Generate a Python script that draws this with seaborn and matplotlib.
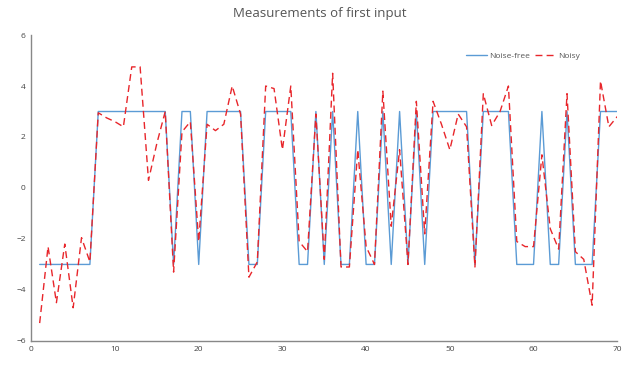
import numpy as np
import pandas as pd
import matplotlib
matplotlib.use("Agg")
import matplotlib.pyplot as plt
import seaborn as sns

x = list(range(1, 71))
noise_free = [-3]*7 + [3]*9 + [-3] + [3]*2 + [-3] + [3]*5 + [-3]*2 + [3]*4 + [-3]*2 + \
    [3, -3, 3, -3, -3, 3, -3, -3, 3, -3, 3, -3, 3, -3] + [3]*5 + [-3] + [3]*4 + [-3]*3 + \
    [3, -3, -3, 3, -3, -3, -3, 3, 3, 3]
noisy = [-5.3, -2.3, -4.5, -2.2, -4.7, -1.95, -2.9,
         2.95, 2.75, 2.6, 2.4, 4.75, 4.75, 0.3, 1.75, 3.0,
         -3.3, 2.2, 2.6, -2.1,
         2.5, 2.25, 2.5, 4.0, 2.9,
         -3.5, -2.9,
         4.0, 3.9, 1.5, 4.0,
         -2.1, -2.5,
         2.9, -2.8, 4.5, -3.1, -3.1, 1.5, -2.3, -3.0, 3.8, -1.5, 1.5, -3.0, 3.4, -1.8,
         3.4, 2.5, 1.5, 2.9, 2.4,
         -3.1,
         3.7, 2.45, 3.0, 4.0,
         -2.1, -2.3, -2.3,
         1.3, -1.6, -2.4, 3.7,
         -2.5, -2.8, -4.6,
         4.2, 2.4, 2.8]
x_ticks = [0, 10, 20, 30, 40, 50, 60, 70]
y_ticks = [-6, -4, -2, 0, 2, 4, 6]
title = "Measurements of first input"

df = pd.DataFrame({"x": x, "Noise-free": noise_free, "Noisy": noisy})

sns.set_theme(style="white")
plt.rcParams['font.family'] = ['Open Sans', 'DejaVu Sans']

fig = plt.figure(figsize=(6.26, 3.65), dpi=100)
ax = fig.add_axes([0.05, 0.066, 0.936, 0.838])

sns.lineplot(data=df, x="x", y="Noise-free", ax=ax, color="#5B9BD5", lw=1.0, label="Noise-free")
sns.lineplot(data=df, x="x", y="Noisy", ax=ax, color="#E8262B", lw=1.0, label="Noisy",
             linestyle=(0, (5, 3)))

ax.set_xlim(0, 70)
ax.set_ylim(-6, 6)
ax.set_xticks(x_ticks)
ax.set_yticks(y_ticks)
ax.tick_params(axis='both', labelsize=6, colors="#444444", length=0, pad=4)
ax.set_xlabel("")
ax.set_ylabel("")
for s in ["top", "right"]:
    ax.spines[s].set_visible(False)
for s in ["left", "bottom"]:
    ax.spines[s].set_color("#888888")
    ax.spines[s].set_linewidth(1.0)

fig.text(0.51, 0.962, title, ha="center", va="center", fontsize=9.5, color="#555555")

leg = ax.legend(loc="upper right", bbox_to_anchor=(0.95, 0.97), ncol=2, frameon=False,
                fontsize=6, handlelength=2.5, columnspacing=0.6, handletextpad=0.3,
                labelcolor="#555555")

fig.savefig("out.png", dpi=100)
